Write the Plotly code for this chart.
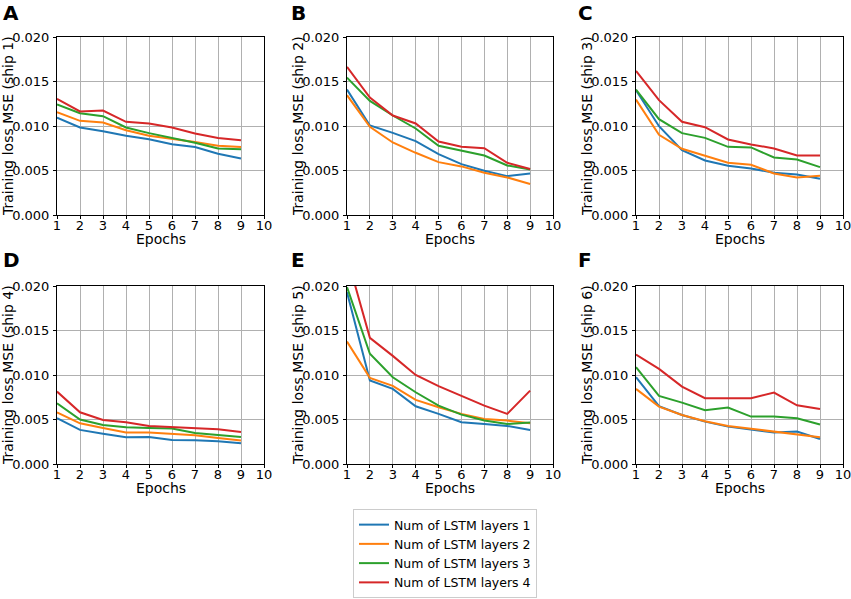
import plotly.graph_objects as go

epochs = [1, 2, 3, 4, 5, 6, 7, 8, 9]
series_names = ["Num of LSTM layers 1", "Num of LSTM layers 2", "Num of LSTM layers 3", "Num of LSTM layers 4"]
colors = ["#1f77b4", "#ff7f0e", "#2ca02c", "#d62728"]
panel_letters = ["A", "B", "C", "D", "E", "F"]
ylabels = ["Training loss MSE (ship %d)" % i for i in range(1, 7)]
x_ticks = [1, 2, 3, 4, 5, 6, 7, 8, 9, 10]
y_ticks = [0.0, 0.005, 0.010, 0.015, 0.020]

ship1 = [
    [0.01095, 0.00983, 0.00942, 0.0089, 0.00852, 0.00796, 0.00763, 0.00688, 0.00636],
    [0.01155, 0.01058, 0.01039, 0.00953, 0.0089, 0.00856, 0.00819, 0.00778, 0.00763],
    [0.01241, 0.01144, 0.0111, 0.00983, 0.0092, 0.00867, 0.00811, 0.00748, 0.0074],
    [0.01305, 0.01163, 0.01174, 0.01047, 0.01028, 0.00983, 0.00916, 0.00864, 0.00841],
]
ship2 = [
    [0.01409, 0.01006, 0.00923, 0.0083, 0.00684, 0.00572, 0.00497, 0.00437, 0.00467],
    [0.01346, 0.00991, 0.00815, 0.00699, 0.00594, 0.00546, 0.00475, 0.00422, 0.00348],
    [0.01544, 0.01282, 0.01118, 0.00972, 0.00778, 0.00721, 0.00669, 0.00557, 0.00512],
    [0.01664, 0.0132, 0.01118, 0.01028, 0.00826, 0.00766, 0.00751, 0.00587, 0.00516],
]
ship3 = [
    [0.01402, 0.00998, 0.00729, 0.00613, 0.00553, 0.00523, 0.00475, 0.00456, 0.00407],
    [0.01297, 0.00901, 0.00744, 0.00669, 0.00587, 0.00564, 0.00467, 0.00422, 0.00441],
    [0.01409, 0.01077, 0.0092, 0.00867, 0.00766, 0.00759, 0.00647, 0.00624, 0.00538],
    [0.01619, 0.0129, 0.01047, 0.00987, 0.00849, 0.00793, 0.00748, 0.00669, 0.00669],
]
ship4 = [
    [0.00514, 0.00383, 0.00341, 0.0030, 0.00304, 0.0027, 0.00266, 0.00255, 0.00233],
    [0.00581, 0.00457, 0.00405, 0.00353, 0.00353, 0.00334, 0.00323, 0.00293, 0.00263],
    [0.00683, 0.00499, 0.00439, 0.00413, 0.00405, 0.00398, 0.00349, 0.0033, 0.00304],
    [0.00814, 0.00581, 0.00495, 0.00469, 0.00427, 0.00413, 0.00405, 0.0039, 0.0036],
]
ship5 = [
    [0.01931, 0.00938, 0.00844, 0.00649, 0.00563, 0.00469, 0.0045, 0.00428, 0.00383],
    [0.01376, 0.00968, 0.00878, 0.0072, 0.00638, 0.00563, 0.00506, 0.00488, 0.00458],
    [0.01987, 0.01238, 0.00975, 0.00806, 0.00656, 0.00555, 0.00488, 0.0045, 0.00465],
    [0.0233, 0.01418, 0.01215, 0.01001, 0.00874, 0.00769, 0.00656, 0.00563, 0.00825],
]
ship6 = [
    [0.00975, 0.00649, 0.00551, 0.00476, 0.0042, 0.00383, 0.00353, 0.00364, 0.00281],
    [0.00844, 0.00645, 0.00551, 0.0048, 0.00428, 0.00398, 0.00368, 0.00338, 0.0030],
    [0.01088, 0.00765, 0.0069, 0.00604, 0.00634, 0.00533, 0.00533, 0.00514, 0.00443],
    [0.0123, 0.01069, 0.0087, 0.00739, 0.00739, 0.00739, 0.00803, 0.0066, 0.00619],
]
ships = [ship1, ship2, ship3, ship4, ship5, ship6]

W, H = 851, 599
col_px = [(57, 264), (347, 553), (636, 843)]
row_px = [(37, 215), (286, 464)]
letter_px = [(1, 12.5), (289, 12.5), (576, 12.5), (1, 259.5), (289, 259.5), (576, 259.5)]
ylab_px = [8, 298, 587]

fig = go.Figure()
FONT = "DejaVu Sans"
annotations = []
for i, data in enumerate(ships):
    r, c = divmod(i, 3)
    n = i + 1
    xa = "x" if n == 1 else "x%d" % n
    ya = "y" if n == 1 else "y%d" % n
    for k in range(4):
        fig.add_trace(go.Scatter(
            x=epochs, y=data[k], mode="lines", name=series_names[k],
            line=dict(color=colors[k], width=2), xaxis=xa, yaxis=ya,
            showlegend=(i == 0), cliponaxis=True,
        ))
    x0, x1 = col_px[c]
    y0, y1 = row_px[r]
    axx = dict(domain=[x0 / W, x1 / W], range=[1, 10], tickvals=x_ticks,
               showline=True, linecolor="black", linewidth=1, mirror=True,
               showgrid=True, gridcolor="#b0b0b0", gridwidth=0.8,
               zeroline=False, ticks="outside", ticklen=3, tickwidth=1, tickcolor="black",
               ticklabelstandoff=-5, automargin=False, ticklabeloverflow="allow",
               tickfont=dict(family=FONT, size=13, color="black"),
               anchor=ya)
    axy = dict(domain=[1 - y1 / H, 1 - y0 / H], range=[0, 0.020], tickvals=y_ticks,
               tickformat=".3f",
               showline=True, linecolor="black", linewidth=1, mirror=True,
               showgrid=True, gridcolor="#b0b0b0", gridwidth=0.8,
               zeroline=False, ticks="outside", ticklen=3, tickwidth=1, tickcolor="black",
               ticklabelstandoff=1, automargin=False, ticklabeloverflow="allow",
               tickfont=dict(family=FONT, size=13, color="black"),
               anchor=xa)
    fig.update_layout(**{("xaxis" if n == 1 else "xaxis%d" % n): axx,
                         ("yaxis" if n == 1 else "yaxis%d" % n): axy})
    lx, ly = letter_px[i]
    annotations.append(dict(text="<b>%s</b>" % panel_letters[i], x=lx / W, y=1 - ly / H,
                            xref="paper", yref="paper", xanchor="left", yanchor="middle",
                            showarrow=False, font=dict(family=FONT, size=20, color="black")))
    annotations.append(dict(text="Epochs", x=(x0 + x1) / 2 / W, y=1 - (y1 + 24) / H,
                            xref="paper", yref="paper", xanchor="center", yanchor="middle",
                            showarrow=False, font=dict(family=FONT, size=14, color="black")))
    annotations.append(dict(text=ylabels[i], x=ylab_px[c] / W, y=1 - (y0 + y1) / 2 / H,
                            xref="paper", yref="paper", xanchor="center", yanchor="middle",
                            textangle=-90, showarrow=False,
                            font=dict(family=FONT, size=14, color="black")))

fig.update_layout(
    width=W, height=H, margin=dict(l=0, r=0, t=0, b=0, pad=0, autoexpand=False),
    paper_bgcolor="white", plot_bgcolor="white",
    annotations=annotations,
    legend=dict(x=353 / W, y=1 / H, xanchor="left", yanchor="bottom",
                bordercolor="#cccccc", borderwidth=1, bgcolor="white",
                font=dict(family=FONT, size=12.5, color="black"),
                tracegroupgap=0, itemwidth=30),
)
fig.write_html("out.html", config={"displayModeBar": False},
               post_script="document.body.style.margin='0px';")
